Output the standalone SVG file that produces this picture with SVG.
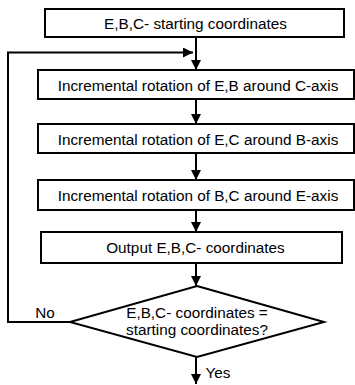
<svg xmlns="http://www.w3.org/2000/svg" width="355" height="385" viewBox="0 0 355 385">
<defs>
<marker id="ah" viewBox="0 0 10 10" refX="10" refY="5" markerWidth="10" markerHeight="10" markerUnits="userSpaceOnUse" orient="auto">
<path d="M0,0 L10,5 L0,10 Z" fill="#000"/>
</marker>
<style>
.box{fill:#fff;stroke:#000;stroke-width:2}
.t{font-family:"Liberation Sans",Arial,sans-serif;font-size:15.3px;fill:#000;text-anchor:middle}
.c{fill:none;stroke:#000;stroke-width:2}
</style>
</defs>
<rect width="355" height="385" fill="#fff"/>
<g id="start">
<rect class="box" x="45" y="9" width="299" height="28"/>
<text class="t" x="195.5" y="29">E,B,C- starting coordinates</text>
</g>
<g id="rotC">
<rect class="box" x="38" y="70" width="316" height="29"/>
<text class="t" x="198" y="90.5">Incremental rotation of E,B around C-axis</text>
</g>
<g id="rotB">
<rect class="box" x="38" y="124" width="316" height="29"/>
<text class="t" x="198" y="144.5">Incremental rotation of E,C around B-axis</text>
</g>
<g id="rotE">
<rect class="box" x="38" y="180" width="316" height="30"/>
<text class="t" x="198" y="201">Incremental rotation of B,C around E-axis</text>
</g>
<g id="output">
<rect class="box" x="41" y="232" width="301" height="31"/>
<text class="t" x="195.5" y="253">Output E,B,C- coordinates</text>
</g>
<g id="decision">
<polygon class="box" points="197,286 324,322 197,357 70,322"/>
<text class="t" x="197" y="318">E,B,C- coordinates =</text>
<text class="t" x="197" y="335">starting coordinates?</text>
</g>
<g id="connectors">
<line class="c" x1="196" y1="37" x2="196" y2="70" marker-end="url(#ah)"/>
<line class="c" x1="196" y1="99" x2="196" y2="124" marker-end="url(#ah)"/>
<line class="c" x1="196" y1="153" x2="196" y2="180" marker-end="url(#ah)"/>
<line class="c" x1="196" y1="210" x2="196" y2="232" marker-end="url(#ah)"/>
<line class="c" x1="196" y1="263" x2="196" y2="286" marker-end="url(#ah)"/>
<line class="c" x1="196" y1="357" x2="196" y2="384" marker-end="url(#ah)"/>
<polyline class="c" points="70,322 8,322 8,52.5 193,52.5" marker-end="url(#ah)"/>
<text class="t" x="45" y="318">No</text>
<text class="t" x="218" y="378">Yes</text>
</g>
</svg>
